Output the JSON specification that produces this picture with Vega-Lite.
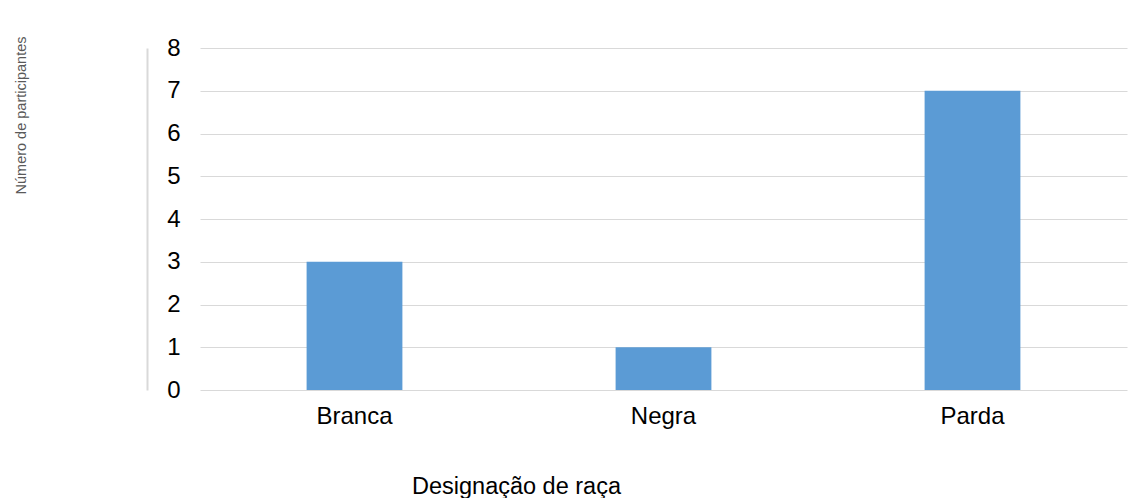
{
  "$schema": "https://vega.github.io/schema/vega-lite/v6.json",
  "autosize": "none",
  "width": 927,
  "height": 342,
  "padding": {"left": 200, "top": 48, "right": 18, "bottom": 108},
  "background": "white",
  "config": {
    "view": {"stroke": null},
    "font": "Liberation Sans"
  },
  "data": {
    "values": [
      {"raca": "Branca", "participantes": 3},
      {"raca": "Negra", "participantes": 1},
      {"raca": "Parda", "participantes": 7}
    ]
  },
  "mark": {"type": "bar", "color": "#5b9bd5"},
  "encoding": {
    "x": {
      "field": "raca",
      "type": "nominal",
      "sort": null,
      "scale": {"paddingInner": 0.69, "paddingOuter": 0.345},
      "axis": {
        "title": "Designação de raça",
        "titleFont": "Liberation Sans",
        "titleFontSize": 23.5,
        "titleFontWeight": "normal",
        "titleColor": "#000000",
        "titleX": 316,
        "titleY": 103,
        "titleAlign": "center",
        "titleBaseline": "alphabetic",
        "labelAngle": 0,
        "labelFontSize": 24,
        "labelColor": "#000000",
        "labelPadding": 14,
        "ticks": false,
        "domain": false,
        "grid": false
      }
    },
    "y": {
      "field": "participantes",
      "type": "quantitative",
      "scale": {"domain": [0, 8], "nice": false},
      "axis": {
        "title": "Número de participantes",
        "titleFont": "Liberation Sans",
        "titleFontSize": 14.5,
        "titleFontWeight": "normal",
        "titleColor": "#595959",
        "titleX": -126,
        "titleY": 67,
        "titleAlign": "center",
        "titleBaseline": "middle",
        "titleAngle": -90,
        "values": [0, 1, 2, 3, 4, 5, 6, 7, 8],
        "labelFontSize": 24,
        "labelColor": "#000000",
        "labelPadding": -33,
        "offset": 53,
        "ticks": false,
        "domain": true,
        "domainColor": "#d9d9d9",
        "domainWidth": 2,
        "grid": true,
        "gridColor": "#d9d9d9",
        "gridWidth": 1
      }
    }
  }
}
